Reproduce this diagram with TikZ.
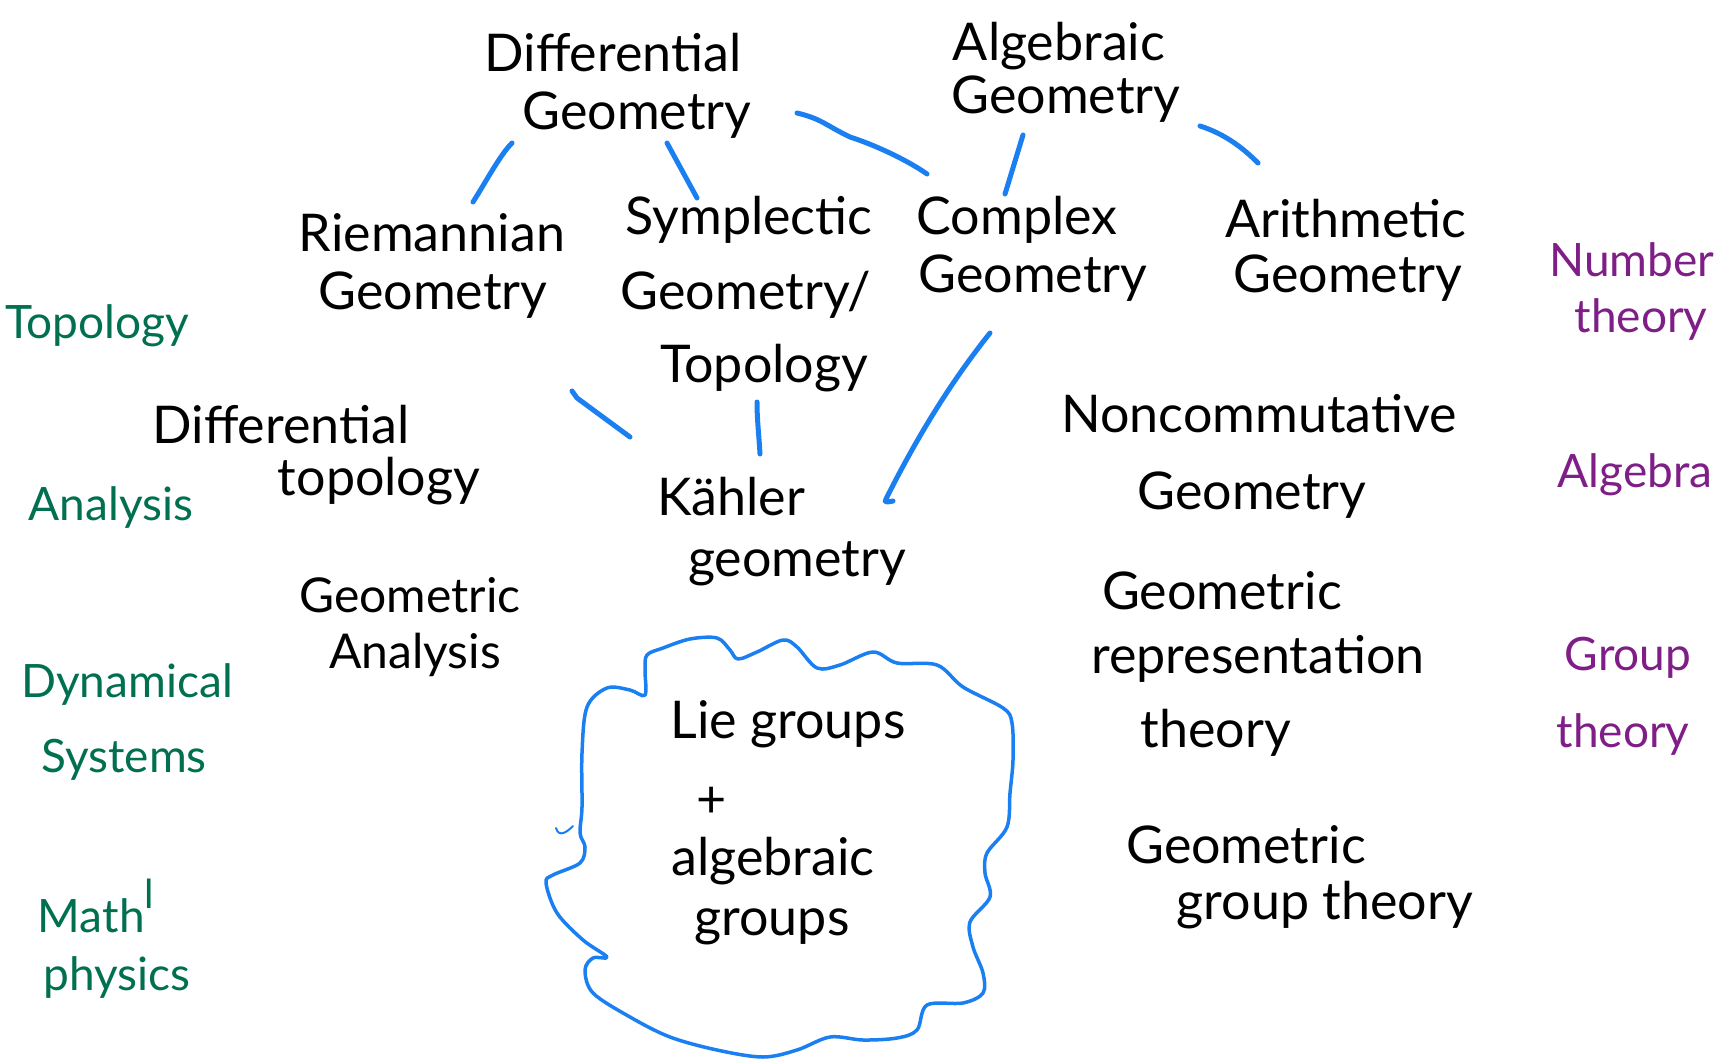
\documentclass[tikz,border=0pt]{standalone}
\usepackage{fontspec}
\setmainfont{Lato}
\definecolor{inkblue}{RGB}{26,127,240}
\definecolor{inkgreen}{RGB}{0,112,80}
\definecolor{inkpurple}{RGB}{128,30,135}
\begin{document}
\begin{tikzpicture}[x=1pt,y=-1pt,
  txt/.style={anchor=base,inner sep=0pt,font=\fontsize{52}{58}\selectfont,text=black},
  gtxt/.style={txt,text=inkgreen,font=\fontsize{46}{52}\selectfont},
  ptxt/.style={txt,text=inkpurple,font=\fontsize{46}{52}\selectfont},
  link/.style={draw=inkblue,line width=5pt,line cap=round,line join=round},
  blob/.style={draw=inkblue,line width=3.5pt,line cap=round,line join=round}]
\useasboundingbox (0,0) rectangle (1736,1064);
% --- geometry nodes
\node[txt] (dg1) at (613,72) {Differential};
\node[txt] (dg2) at (637,130) {Geometry};
\node[txt] (ag1) at (1059,61) {Algebraic};
\node[txt] (ag2) at (1066,114) {Geometry};
\node[txt] (ri1) at (432,252) {Riemannian};
\node[txt] (ri2) at (433,310) {Geometry};
\node[txt] (sy1) at (749,235) {Symplectic};
\node[txt] (sy2) at (746,310) {Geometry/};
\node[txt] (sy3) at (764,382) {Topology};
\node[txt] (co1) at (1017,235) {Complex};
\node[txt] (co2) at (1033,293) {Geometry};
\node[txt] (ar1) at (1346,238) {Arithmetic};
\node[txt] (ar2) at (1348,293) {Geometry};
\node[txt] (dt1) at (281,443) {Differential};
\node[txt] (dt2) at (379,495) {topology};
\node[txt] (ka1) at (731,515) {Kähler};
\node[txt] (ka2) at (797,576) {geometry};
\node[txt] (nc1) at (1259,432) {Noncommutative};
\node[txt] (nc2) at (1252,509) {Geometry};
\node[txt,font=\fontsize{48}{54}\selectfont] (ga1) at (410,612) {Geometric};
\node[txt,font=\fontsize{48}{54}\selectfont] (ga2) at (415,668) {Analysis};
\node[txt] (gr1) at (1222,609) {Geometric};
\node[txt] (gr2) at (1258,673) {representation};
\node[txt] (gr3) at (1216,747) {theory};
\node[txt] (gg1) at (1246,863) {Geometric};
\node[txt] (gg2) at (1325,919) {group theory};
\node[txt] (lie1) at (788,738) {Lie groups};
\node[txt,anchor=center] (plus) at (712,802) {+};
\node[txt] (lie3) at (773,875) {algebraic};
\node[txt] (lie4) at (772,935) {groups};
% --- green (left)
\node[gtxt] (top) at (97,338) {Topology};
\node[gtxt] (ana) at (111,520) {Analysis};
\node[gtxt] (dy1) at (127,697) {Dynamical};
\node[gtxt] (dy2) at (124,772) {Systems};
\node[gtxt] (mp1) at (96,932) {Math\raisebox{24pt}{\fontsize{40}{40}\selectfont l}};
\node[gtxt] (mp2) at (117,990) {physics};
% --- purple (right)
\node[ptxt] (nt1) at (1632,277) {Number};
\node[ptxt] (nt2) at (1641,332) {theory};
\node[ptxt] (alg) at (1635,487) {Algebra};
\node[ptxt] (gt1) at (1628,670) {Group};
\node[ptxt] (gt2) at (1623,747) {theory};
% --- connectors
\draw[link] ([shift={(-125,13)}]dg2.base) .. controls +(-12,12) and +(14,-22) .. ([shift={(41,-50)}]ri1.base);
\draw[link] ([shift={(30,13)}]dg2.base) -- ([shift={(-52,-37)}]sy1.base);
\draw[link] ([shift={(160,-17)}]dg2.base) .. controls +(25,6) and +(-25,-12) .. +(53,24)
   .. controls +(25,8) and +(-20,-14) .. ([shift={(-90,-61)}]co1.base);
\draw[link] ([shift={(-43,21)}]ag2.base) -- ([shift={(-12,-41)}]co1.base);
\draw[link] ([shift={(134,12)}]ag2.base) .. controls +(25,8) and +(-15,-15) .. ([shift={(-88,-75)}]ar1.base);
\draw[link] ([shift={(139,81)}]ri2.base) -- +(5,7) -- ([shift={(-101,-78)}]ka1.base);
\draw[link] ([shift={(-7,20)}]sy3.base) .. controls +(0,18) and +(-1,-18) .. ([shift={(29,-61)}]ka1.base);
\draw[link] ([shift={(-43,40)}]co2.base) .. controls +(-40,50) and +(30,-60) .. ([shift={(155,-16)}]ka1.base)
   .. controls +(-3,4) and +(-4,1) .. +(7,2);
% --- blob round Lie groups
\draw[blob] plot[smooth cycle,tension=0.55] coordinates {
 (647,655) (663,648) (690,639) (717,638) (730,650) (738,659) (757,652) (783,640)
 (797,647) (817,668) (840,665) (873,652) (897,663) (937,665) (963,687) (1003,708)
 (1012,723) (1013,760) (1010,793) (1007,827) (987,853) (985,873) (990,897) (970,922)
 (973,947) (983,973) (983,993) (963,1003) (927,1005) (917,1030) (897,1038) (863,1040)
 (830,1037) (797,1050) (763,1057) (717,1050) (670,1037) (630,1017) (593,993) (585,970)
 (593,958) (607,957) (583,940) (557,913) (546,883) (553,875) (580,863) (585,847)
 (580,833) (582,807) (582,753) (587,707) (607,688) (630,690) (645,695) (645,670)};
\coordinate (curl) at (556,828);
\draw[blob,line width=2pt] (curl) .. controls +(3,10) and +(-6,6) .. +(17,-2);
\end{tikzpicture}
\end{document}
